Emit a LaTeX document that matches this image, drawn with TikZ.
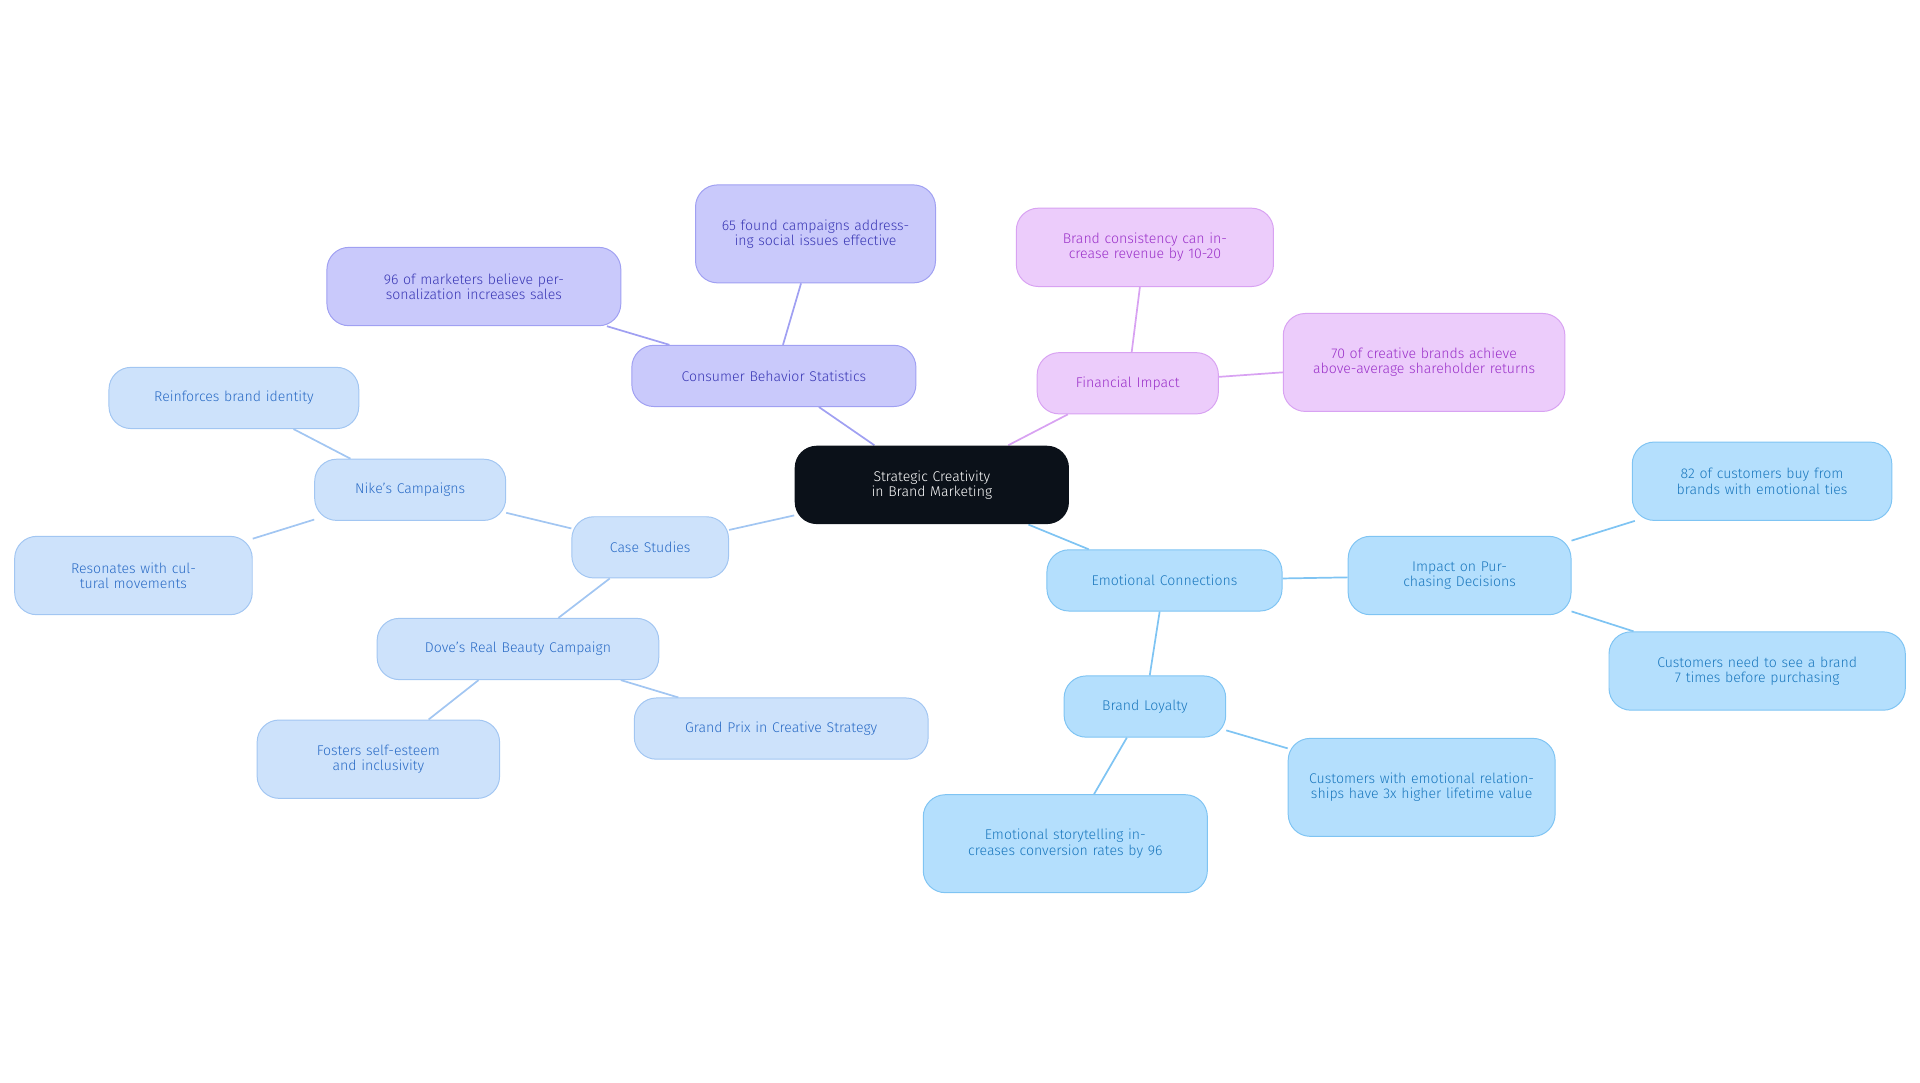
\documentclass[tikz,border=0pt]{standalone}
\usepackage{fontspec}
\setmainfont{Fira Sans Light}[BoldFont=Fira Sans]
\usetikzlibrary{backgrounds}
\definecolor{cfill}{HTML}{0B1119}
\definecolor{pf}{HTML}{C9C9FB}\definecolor{pd}{HTML}{A0A0F2}\definecolor{pt}{HTML}{3A38B5}
\definecolor{mf}{HTML}{ECCCFB}\definecolor{md}{HTML}{D8A2F2}\definecolor{mt}{HTML}{9B32C9}
\definecolor{lf}{HTML}{CDE2FB}\definecolor{ld}{HTML}{A2C6F2}\definecolor{lt}{HTML}{2B6CC6}
\definecolor{sf}{HTML}{B4DFFD}\definecolor{sd}{HTML}{7FC4F3}\definecolor{st}{HTML}{1B78BE}
\tikzset{
 bx/.style n args={2}{rounded corners=18pt,minimum width=#1pt,minimum height=#2pt,text width=#1pt-34pt,align=center,inner sep=0pt,font=\fontsize{11.5}{12.5}\selectfont,line width=0.8pt},
 P/.style={fill=pf,draw=pd,text=pt},M/.style={fill=mf,draw=md,text=mt},
 L/.style={fill=lf,draw=ld,text=lt},S/.style={fill=sf,draw=sd,text=st},
 e/.style={line width=1.4pt}}
\begin{document}
\begin{tikzpicture}[x=1pt,y=-1pt]
\useasboundingbox (0,0) rectangle (1568,884);
\node[bx={224}{64},fill=cfill,text=white] (c) at (761,396) {Strategic Creativity in Brand Marketing};
\node[bx={232}{50},P] (cbs) at (632,307) {Consumer Behavior Statistics};
\node[bx={240}{64},P] (m96) at (387,234) {96 of marketers believe personalization increases sales};
\node[bx={196}{80},P] (f65) at (666,191) {65 found campaigns addressing social issues effective};
\node[bx={148}{50},M] (fin) at (921,313) {Financial Impact};
\node[bx={210}{64},M] (bc) at (935,202) {Brand consistency can increase revenue by 10-20};
\node[bx={230}{80},M] (c70) at (1163,296) {70 of creative brands achieve above-average shareholder returns};
\node[bx={128}{50},L] (cs) at (531,447) {Case Studies};
\node[bx={156}{50},L] (nike) at (335,400) {Nike's Campaigns};
\node[bx={204}{50},L] (rei) at (191,325) {Reinforces brand identity};
\node[bx={194}{64},L] (res) at (109,470) {Resonates with cultural movements};
\node[bx={230}{50},L] (dove) at (423,530) {Dove's Real Beauty Campaign};
\node[bx={198}{64},L] (fos) at (309,620) {Fosters self-esteem and inclusivity};
\node[bx={240}{50},L] (gp) at (638,595) {Grand Prix in Creative Strategy};
\node[bx={192}{50},S] (emo) at (951,474) {Emotional Connections};
\node[bx={182}{64},S] (imp) at (1192,470) {Impact on Purchasing Decisions};
\node[bx={212}{64},S] (c82) at (1439,393) {82 of customers buy from brands with emotional ties};
\node[bx={242}{64},S] (c7) at (1435,548) {Customers need to see a brand 7 times before purchasing};
\node[bx={132}{50},S] (bl) at (935,577) {Brand Loyalty};
\node[bx={218}{80},S] (c3) at (1161,643) {Customers with emotional relationships have 3x higher lifetime value};
\node[bx={232}{80},S] (es) at (870,689) {Emotional storytelling increases conversion rates by 96};
\begin{scope}[on background layer]
\draw[e,pd] (c)--(cbs) (cbs)--(m96) (cbs)--(f65);
\draw[e,md] (c)--(fin) (fin)--(bc) (fin)--(c70);
\draw[e,ld] (c)--(cs) (cs)--(nike) (nike)--(rei) (nike)--(res) (cs)--(dove) (dove)--(fos) (dove)--(gp);
\draw[e,sd] (c)--(emo) (emo)--(imp) (imp)--(c82) (imp)--(c7) (emo)--(bl) (bl)--(c3) (bl)--(es);
\end{scope}
\end{tikzpicture}
\end{document}
